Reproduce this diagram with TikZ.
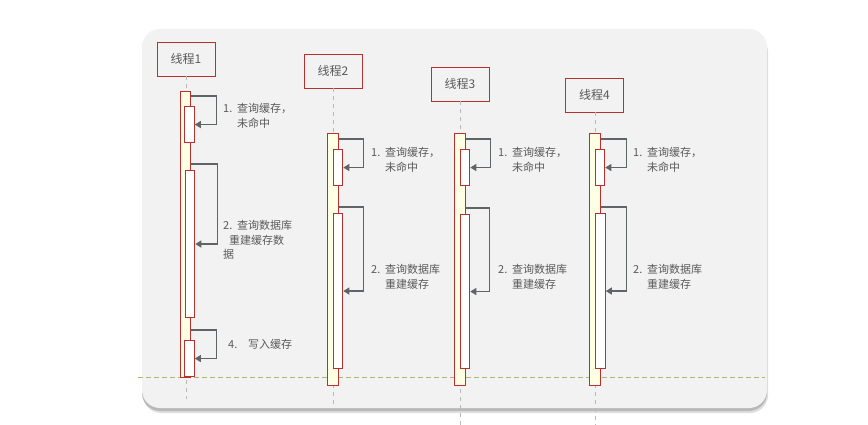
\documentclass[tikz,border=0pt]{standalone}
\usepackage{fontspec}
\setmainfont{Noto Sans CJK SC}
\usetikzlibrary{arrows.meta}

\definecolor{panelgray}{HTML}{F2F2F2}
\definecolor{barred}{HTML}{B8312F}
\definecolor{baryellow}{HTML}{FFFFE3}
\definecolor{textgray}{HTML}{595959}
\definecolor{arrowgray}{HTML}{5F6466}
\definecolor{sepgreen}{HTML}{A9BA6E}

\newcommand{\numtag}[2][14pt]{\makebox[#1][l]{#2.}}

\tikzset{
	thread/.style={draw=barred, line width=0.9pt, fill=panelgray, minimum width=58pt, minimum height=34pt, inner sep=0pt, text=textgray, font=\fontsize{12}{14}\selectfont},
	actbar/.style={draw=barred, line width=1.1pt, fill=baryellow, minimum width=10.5pt, inner sep=0pt, anchor=north},
	callbox/.style={draw=barred, line width=1.1pt, fill=white, minimum width=9.5pt, inner sep=0pt, anchor=north},
	life/.style={draw=gray!55, line width=0.8pt, dash pattern=on 4pt off 4pt},
	msg/.style={draw=arrowgray, line width=1.2pt, -{Triangle[width=7pt,length=6pt]}},
	note/.style={text=textgray, font=\fontsize{11}{14.5}\selectfont, align=left, inner sep=0pt, anchor=north west}
}

\begin{document}
\begin{tikzpicture}[x=1pt, y=-1pt]
	\useasboundingbox (0,0) rectangle (868,425);
	% panel with shadow
	\fill[gray!25, rounded corners=18pt] (143,34) rectangle (768,413);
	\fill[gray!55, rounded corners=18pt] (142,31) rectangle (767,411);
	\fill[panelgray, rounded corners=18pt] (142,29) rectangle (767,408);

	% separator
	\coordinate (s1) at (138,377);
	\coordinate (s2) at (765,377);
	\draw[sepgreen, line width=0.8pt, dash pattern=on 5pt off 3pt] (s1) -- (s2);

	% threads
	\node[thread] (t1) at (186,59) {线程1};
	\node[thread] (t2) at (333,71) {线程2};
	\node[thread] (t3) at (460,84) {线程3};
	\node[thread] (t4) at (594.5,95) {线程4};

	% lifelines
	\coordinate (e1) at (186,399);
	\coordinate (e2) at (333,410);
	\coordinate (e3) at (460,425);
	\coordinate (e4) at (595,425);
	\draw[life] (t1.south) -- (e1);
	\draw[life] (t2.south) -- (e2);
	\draw[life] (t3.south -| e3) -- (e3);
	\draw[life] (t4.south -| e4) -- (e4);

	% activation bars
	\node[actbar, minimum height=286pt] (b1) at (185.5,91) {};
	\node[callbox, minimum height=36pt] (c11) at (189.5,106) {};
	\node[callbox, minimum height=147pt] (c12) at (190,170) {};
	\node[callbox, minimum height=36pt] (c13) at (189.5,340) {};

	\node[actbar, minimum height=252pt] (b2) at (333,133) {};
	\node[callbox, minimum height=36pt] (c21) at (338,149) {};
	\node[callbox, minimum height=155pt] (c22) at (338,213) {};

	\node[actbar, minimum height=252pt] (b3) at (460,133) {};
	\node[callbox, minimum height=36pt] (c31) at (465,149) {};
	\node[callbox, minimum height=154pt] (c32) at (465,214) {};

	\node[actbar, minimum height=252pt] (b4) at (595,133) {};
	\node[callbox, minimum height=36pt] (c41) at (600,149) {};
	\node[callbox, minimum height=155pt] (c42) at (600.5,213) {};

	% self messages
	\draw[msg] ([yshift=-5pt]b1.north east) -- ++(25,0) |- (c11.east);
	\draw[msg] ([yshift=6pt]c12.north -| b1.east) -- ++(26,0) |- (c12.east);
	\draw[msg] ([yshift=10pt]c13.north -| b1.east) -- ++(25,0) |- (c13.east);

	\draw[msg] ([yshift=-6pt]b2.north east) -- ++(25,0) |- (c21.east);
	\draw[msg] ([yshift=6pt]c22.north -| b2.east) -- ++(25,0) |- (c22.east);

	\draw[msg] ([yshift=-6pt]b3.north east) -- ++(25,0) |- (c31.east);
	\draw[msg] ([yshift=6pt]c32.north -| b3.east) -- ++(24,0) |- (c32.east);

	\draw[msg] ([yshift=-6pt]b4.north east) -- ++(26,0) |- (c41.east);
	\draw[msg] ([yshift=6pt]c42.north -| b4.east) -- ++(26,0) |- (c42.east);

	% labels
	\node[note] (n11) at (223,103.5) {\numtag{1}查询缓存，\\\hspace{14pt}未命中};
	\node[note] (n12) at (223,220.5) {\numtag{2}查询数据库\\\hspace{6pt}重建缓存数\\据};
	\node[note] (n13) at (228,339.5) {\numtag[20pt]{4}写入缓存};

	\node[note] (n21) at (371,147.5) {\numtag{1}查询缓存，\\\hspace{14pt}未命中};
	\node[note] (n22) at (371,264.5) {\numtag{2}查询数据库\\\hspace{14pt}重建缓存};

	\node[note] (n31) at (498,147.5) {\numtag{1}查询缓存，\\\hspace{14pt}未命中};
	\node[note] (n32) at (498,264.5) {\numtag{2}查询数据库\\\hspace{14pt}重建缓存};

	\node[note] (n41) at (633,147.5) {\numtag{1}查询缓存，\\\hspace{14pt}未命中};
	\node[note] (n42) at (633,264.5) {\numtag{2}查询数据库\\\hspace{14pt}重建缓存};
\end{tikzpicture}
\end{document}
